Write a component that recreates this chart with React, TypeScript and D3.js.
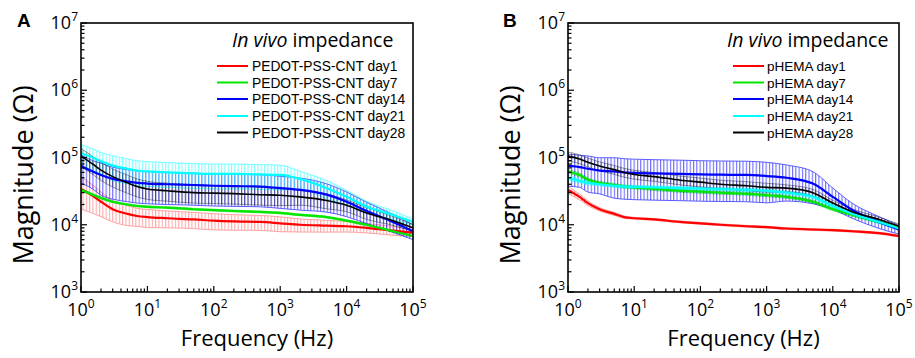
import * as d3 from 'd3';

// frequencies (Hz) at which the curves were read
const freqs = [1, 1.5, 2, 3, 5, 7, 10, 20, 50, 100, 200, 500, 1000, 2000, 5000, 1e4, 2e4, 5e4, 1e5];

const days = ['day1', 'day7', 'day14', 'day21', 'day28'];
const seriesColors = ['#ff0000', '#00e600', '#0000ff', '#00ffff', '#000000'];

// Panel A: PEDOT-PSS-CNT, impedance magnitude (ohm)
const aDay1 = [34000, 27000, 22000, 17000, 14500, 13500, 13000, 12500, 12000, 11500, 11200, 11000, 10500, 10000, 9700, 9500, 9000, 8200, 7600];
const aDay7 = [33000, 28000, 25000, 22000, 20000, 19000, 18500, 18000, 17000, 16500, 16000, 15500, 15000, 14000, 13000, 11500, 10000, 8000, 6800];
const aDay14 = [75000, 62000, 55000, 48000, 44000, 42000, 41000, 40000, 39000, 38000, 37500, 37000, 35000, 33000, 28000, 22000, 16000, 11000, 8000];
const aDay21 = [115000, 100000, 88000, 76000, 68000, 64000, 62000, 60000, 58000, 57000, 57000, 56000, 55000, 48000, 35000, 26000, 18600, 14000, 11000];
const aDay28 = [105000, 80000, 65000, 52000, 42000, 37000, 34000, 32000, 30000, 29500, 29000, 28000, 27500, 26000, 23000, 19500, 15000, 11500, 9000];

// relative error (SD / mean) for panel A
const aErr1 = [0.5, 0.45, 0.4, 0.35, 0.33, 0.3, 0.3, 0.28, 0.27, 0.27, 0.26, 0.25, 0.25, 0.22, 0.2, 0.18, 0.16, 0.15, 0.12];
const aErr7 = [0.04, 0.04, 0.04, 0.03, 0.03, 0.03, 0.03, 0.03, 0.03, 0.03, 0.03, 0.03, 0.03, 0.03, 0.03, 0.03, 0.03, 0.03, 0.03];
const aErr14 = [0.45, 0.45, 0.5, 0.5, 0.5, 0.5, 0.5, 0.5, 0.5, 0.5, 0.5, 0.5, 0.5, 0.5, 0.45, 0.4, 0.35, 0.3, 0.25];
const aErr21 = [0.35, 0.35, 0.35, 0.4, 0.4, 0.4, 0.4, 0.4, 0.4, 0.4, 0.4, 0.4, 0.4, 0.3, 0.3, 0.25, 0.2, 0.15, 0.1];
const aErr28 = [0.3, 0.3, 0.3, 0.3, 0.3, 0.3, 0.3, 0.3, 0.3, 0.3, 0.3, 0.3, 0.3, 0.25, 0.25, 0.2, 0.2, 0.15, 0.12];

// Panel B: pHEMA
const bDay1 = [33000, 26000, 21000, 17000, 14500, 13000, 12500, 12000, 11000, 10500, 10000, 9500, 9200, 8800, 8500, 8300, 8000, 7500, 6800];
const bDay7 = [62000, 55000, 47000, 42000, 39000, 37000, 36000, 34000, 32000, 31000, 30000, 29000, 27500, 26000, 22000, 17000, 14000, 11000, 9000];
const bDay14 = [75000, 72000, 68000, 64000, 62000, 60000, 59000, 58000, 57000, 56000, 55500, 55000, 53000, 50000, 41000, 26000, 16500, 11000, 8500];
const bDay21 = [50000, 45000, 42000, 40000, 38000, 37000, 36500, 36000, 35000, 34500, 34000, 33000, 32000, 30000, 26000, 19000, 14500, 11000, 8800];
const bDay28 = [105000, 95000, 85000, 75000, 66000, 60000, 56000, 52000, 46000, 43000, 40000, 38000, 36000, 35000, 30000, 21000, 15500, 12000, 9500];

const bErr1 = [0.12, 0.1, 0.08, 0.06, 0.05, 0.04, 0.03, 0.03, 0.03, 0.03, 0.03, 0.03, 0.03, 0.03, 0.03, 0.03, 0.03, 0.03, 0.03];
const bErr7 = [0.06, 0.06, 0.05, 0.05, 0.05, 0.05, 0.05, 0.05, 0.05, 0.05, 0.05, 0.05, 0.05, 0.05, 0.05, 0.05, 0.05, 0.05, 0.05];
const bErr14 = [0.5, 0.5, 0.55, 0.55, 0.6, 0.6, 0.6, 0.6, 0.6, 0.6, 0.6, 0.6, 0.6, 0.55, 0.5, 0.35, 0.25, 0.2, 0.15];
const bErr21 = [0.08, 0.07, 0.06, 0.05, 0.05, 0.05, 0.05, 0.05, 0.05, 0.05, 0.05, 0.05, 0.05, 0.05, 0.05, 0.05, 0.05, 0.05, 0.05];
const bErr28 = [0.15, 0.15, 0.15, 0.15, 0.15, 0.15, 0.15, 0.15, 0.15, 0.15, 0.15, 0.15, 0.15, 0.12, 0.12, 0.1, 0.1, 0.08, 0.08];

const W = 915;
const H = 358;
const top = 23;
const bottom = 292;
const titleFont = '"Open Sans", "Noto Sans", sans-serif';
const legendFont = '"Liberation Sans", Arial, sans-serif';
const bandOpacity = [0.4, 0.6, 0.7, 0.6, 0.45];

const panels = [
  {
    label: 'A', x0: 81, x1: 413, name: 'PEDOT-PSS-CNT',
    means: [aDay1, aDay7, aDay14, aDay21, aDay28],
    errs: [aErr1, aErr7, aErr14, aErr21, aErr28],
    labelX: 17, titleX: 232, lineX: 217, textX: 252, legendSize: 13.8,
  },
  {
    label: 'B', x0: 568, x1: 899, name: 'pHEMA',
    means: [bDay1, bDay7, bDay14, bDay21, bDay28],
    errs: [bErr1, bErr7, bErr14, bErr21, bErr28],
    labelX: 503, titleX: 727, lineX: 733, textX: 767, legendSize: 13.5,
  },
];

const y = d3.scaleLog().domain([1e3, 1e7]).range([bottom, top]);
const legendRows = [66, 82.5, 99, 116, 132.5];

function Pow({ exp }: { exp: number }) {
  return (
    <>
      10<tspan dy={-8} fontSize={12}>{exp}</tspan>
    </>
  );
}

function Panel({ p, idx }: { p: typeof panels[0]; idx: number }) {
  const x = d3.scaleLog().domain([1, 1e5]).range([p.x0, p.x1]);
  const xt = x.ticks();
  const yt = y.ticks();
  const isMajor = (v: number) => Math.abs(Math.log10(v) - Math.round(Math.log10(v))) < 1e-6;
  const line = d3.line<number>()
    .x((_, i) => x(freqs[i]))
    .y((d) => y(d))
    .curve(d3.curveMonotoneX);
  const band = (m: number[], e: number[]) =>
    d3.area<number>()
      .x((_, i) => x(freqs[i]))
      .y0((d, i) => y(d * (1 - e[i])))
      .y1((d, i) => y(d * (1 + e[i])))
      .curve(d3.curveMonotoneX)(m);
  const edge = (m: number[], e: number[], s: number) =>
    line(m.map((d, i) => d * (1 + s * e[i])));
  const clipId = `clip-${idx}`;
  const cx = (p.x0 + p.x1) / 2 + 10;

  return (
    <g>
      <clipPath id={clipId}>
        <rect x={p.x0} y={top} width={p.x1 - p.x0} height={bottom - top} />
      </clipPath>
      <g clipPath={`url(#${clipId})`}>
        {p.means.map((m, i) => (
          <g key={`b${i}`} opacity={bandOpacity[i]}>
            <path d={band(m, p.errs[i]) || ''} fill={`url(#vbar-${i})`} />
            <path d={edge(m, p.errs[i], 1) || ''} fill="none" stroke={seriesColors[i]} strokeWidth={0.9} />
            <path d={edge(m, p.errs[i], -1) || ''} fill="none" stroke={seriesColors[i]} strokeWidth={0.9} />
          </g>
        ))}
        {p.means.map((m, i) => (
          <path key={`m${i}`} d={line(m) || ''} fill="none" stroke={seriesColors[i]}
            strokeWidth={i === 4 ? 1.6 : 2.2} />
        ))}
      </g>

      {/* frame */}
      <rect x={p.x0} y={top} width={p.x1 - p.x0} height={bottom - top} fill="none" stroke="#000" strokeWidth={1.6} />

      {/* x ticks (inward) */}
      {xt.map((t, i) => (
        <line key={`xt${i}`} x1={x(t)} x2={x(t)} y1={bottom} y2={bottom - (isMajor(t) ? 6 : 3.5)} stroke="#000" strokeWidth={1.2} />
      ))}
      {xt.filter(isMajor).map((t) => (
        <text key={`xl${t}`} x={x(t)} y={316} textAnchor="middle" fontFamily={titleFont} fontSize={18} fill="#000">
          <Pow exp={Math.round(Math.log10(t))} />
        </text>
      ))}

      {/* y ticks (inward) */}
      {yt.map((t, i) => (
        <line key={`yt${i}`} x1={p.x0} x2={p.x0 + (isMajor(t) ? 6 : 3.5)} y1={y(t)} y2={y(t)} stroke="#000" strokeWidth={1.2} />
      ))}
      {yt.filter(isMajor).map((t) => (
        <text key={`yl${t}`} x={p.x0 - 3} y={y(t) + 6} textAnchor="end" fontFamily={titleFont} fontSize={18} fill="#000">
          <Pow exp={Math.round(Math.log10(t))} />
        </text>
      ))}

      {/* axis titles */}
      <text x={cx} y={346} textAnchor="middle" fontFamily={titleFont} fontSize={22} fill="#000">Frequency (Hz)</text>
      <text transform={`translate(${p.x0 - 48},${175}) rotate(-90)`} textAnchor="middle" fontFamily={titleFont} fontSize={27} fill="#000">Magnitude (Ω)</text>

      {/* panel label */}
      <text x={p.labelX} y={27} fontFamily={legendFont} fontWeight="bold" fontSize={19} fill="#000">{p.label}</text>

      {/* legend */}
      <text x={p.titleX} y={47} fontFamily={titleFont} fontSize={19.5} fill="#000">
        <tspan fontStyle="italic">In vivo</tspan> impedance
      </text>
      {days.map((d, i) => (
        <g key={d}>
          <line x1={p.lineX} x2={p.lineX + 31} y1={legendRows[i]} y2={legendRows[i]} stroke={seriesColors[i]} strokeWidth={2} />
          <text x={p.textX} y={legendRows[i] + 5} fontFamily={legendFont} fontSize={p.legendSize} fill="#000">
            {p.name} {d}
          </text>
        </g>
      ))}
    </g>
  );
}

export default function App() {
  return (
    <div style={{ position: 'absolute', left: 0, top: 0 }}>
      <svg width={W} height={H} style={{ display: 'block', background: '#fff' }}>
        <defs>
          {seriesColors.map((c, i) => (
            <pattern key={c} id={`vbar-${i}`} patternUnits="userSpaceOnUse" width={3.3} height={6}>
              <line x1={0.6} x2={0.6} y1={0} y2={6} stroke={c} strokeWidth={0.9} />
            </pattern>
          ))}
        </defs>
        {panels.map((p, i) => (
          <Panel key={p.label} p={p} idx={i} />
        ))}
      </svg>
    </div>
  );
}
